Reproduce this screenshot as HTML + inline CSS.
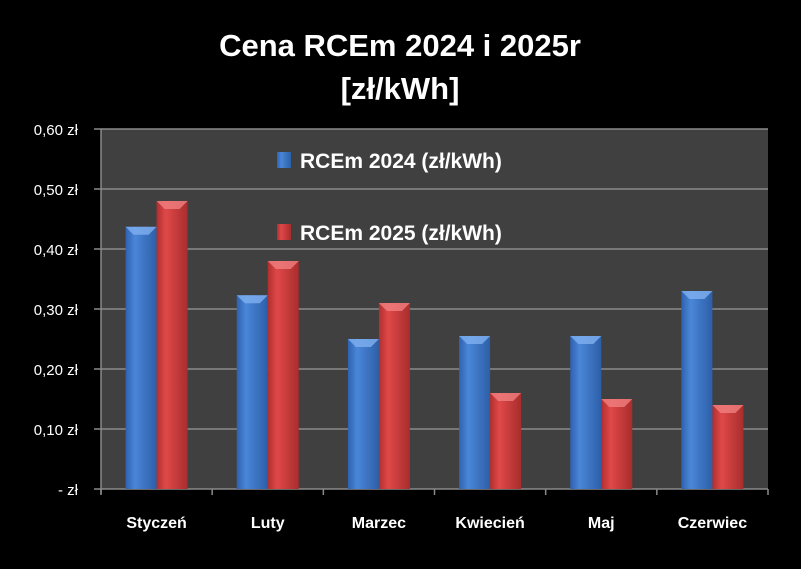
<!DOCTYPE html>
<html><head><meta charset="utf-8"><style>
body{margin:0;background:#000;width:801px;height:569px;overflow:hidden}
svg{display:block;font-family:"Liberation Sans",sans-serif}
</style></head><body>
<svg id="c" width="801" height="569">
<defs>
<linearGradient id="gb" x1="0" x2="1"><stop offset="0" stop-color="#2f62b0"/><stop offset="0.3" stop-color="#4a86d8"/><stop offset="1" stop-color="#2d5fa8"/></linearGradient>
<linearGradient id="gr" x1="0" x2="1"><stop offset="0" stop-color="#b02f2f"/><stop offset="0.3" stop-color="#e04848"/><stop offset="1" stop-color="#a82d2d"/></linearGradient>
</defs>
<text x="400" y="56" fill="#fff" font-size="31" font-weight="bold" text-anchor="middle">Cena RCEm 2024 i 2025r</text>
<text x="400" y="99" fill="#fff" font-size="31" font-weight="bold" text-anchor="middle">[zł/kWh]</text>
<rect x="101" y="129" width="667" height="360" fill="#404040"/>
<g id="grid"></g><g id="bars"></g><g id="labels"></g>
<g>
<rect x="277" y="152" width="14" height="16" fill="url(#gb)"/>
<text x="300" y="168" fill="#fff" font-size="21" font-weight="bold">RCEm 2024 (zł/kWh)</text>
<rect x="277" y="224" width="14" height="16" fill="url(#gr)"/>
<text x="300" y="240" fill="#fff" font-size="21" font-weight="bold">RCEm 2025 (zł/kWh)</text>
</g>
</svg>
<script>
const categories=["Styczeń","Luty","Marzec","Kwiecień","Maj","Czerwiec"];
const values2024=[0.437,0.323,0.25,0.255,0.255,0.33];
const values2025=[0.48,0.38,0.31,0.16,0.15,0.14];
const ticks=[0,0.1,0.2,0.3,0.4,0.5,0.6];
const tickLabels=["-   zł","0,10 zł","0,20 zł","0,30 zł","0,40 zł","0,50 zł","0,60 zł"];
const NS="http://www.w3.org/2000/svg";
const L=101,R=768,T=129,B=489,maxV=0.6;
const y=v=>B-(v/maxV)*(B-T);
const cw=(R-L)/categories.length;
const xc=i=>L+cw*(i+0.5);
function mk(t,a,p){const e=document.createElementNS(NS,t);for(const k in a)e.setAttribute(k,a[k]);p.appendChild(e);return e;}
const g=document.getElementById('grid'),bg=document.getElementById('bars'),lg=document.getElementById('labels');
ticks.forEach((v,i)=>{
 const ln=mk('line',{x1:94,x2:R,y1:y(v),y2:y(v),stroke:'#8a8a8a','stroke-width':1.5},g);
 
 
 const t=mk('text',{x:78,y:y(v)+6,fill:'#fff','font-size':15,'text-anchor':'end'},lg);
 t.textContent=tickLabels[i];
 
 
});
const ax=mk('line',{x1:L,x2:L,y1:T,y2:B+5,stroke:'#8a8a8a','stroke-width':1.5},g);


for(let i=0;i<=categories.length;i++){
 const tk=mk('line',{x1:L+cw*i,x2:L+cw*i,y1:B,y2:B+6,stroke:'#8a8a8a','stroke-width':1.5},g);
 
 
}
const bw=31;
categories.forEach((c,i)=>{
 [[values2024,'url(#gb)','#7fb0f0','bar-2024'],[values2025,'url(#gr)','#f08080','bar-2025']].forEach((s,j)=>{
  const x=xc(i)-bw+j*bw, top=y(s[0][i]);
  const r=mk('rect',{x:x,y:top,width:bw,height:B-top,fill:s[1]},bg);
  
  
  const cap=mk('polygon',{points:`${x},${top} ${x+bw},${top} ${x+bw-8},${top+8} ${x+8},${top+8}`,fill:s[2],opacity:0.8},bg);
  
  
 });
 const t=mk('text',{x:xc(i),y:528,fill:'#fff','font-size':16,'font-weight':'bold','text-anchor':'middle'},lg);
 t.textContent=c;
 
 
});
</script>
</body></html>
